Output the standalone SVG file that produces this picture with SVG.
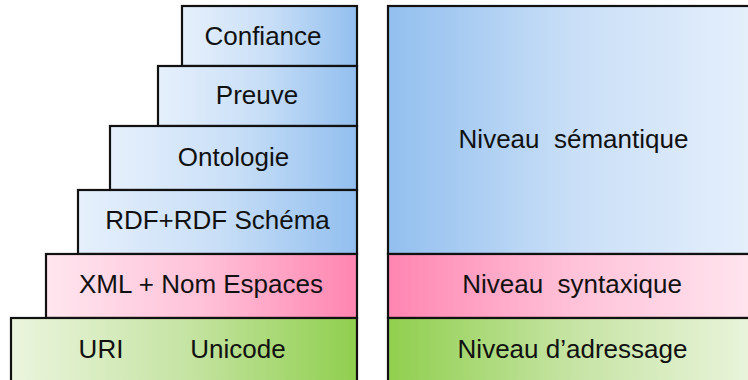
<svg xmlns="http://www.w3.org/2000/svg" width="748" height="380" viewBox="0 0 748 380">
<defs>
<linearGradient id="blueR" x1="0" y1="0" x2="1" y2="0"><stop offset="0" stop-color="#e6f0fc"/><stop offset="0.5" stop-color="#c9dff7"/><stop offset="1" stop-color="#92bfef"/></linearGradient>
<linearGradient id="blueL" x1="0" y1="0" x2="1" y2="0"><stop offset="0" stop-color="#92bfef"/><stop offset="0.5" stop-color="#c9dff7"/><stop offset="1" stop-color="#e6f0fc"/></linearGradient>
<linearGradient id="pinkR" x1="0" y1="0" x2="1" y2="0"><stop offset="0" stop-color="#ffe6ef"/><stop offset="0.5" stop-color="#ffc2d8"/><stop offset="1" stop-color="#ff85b1"/></linearGradient>
<linearGradient id="pinkL" x1="0" y1="0" x2="1" y2="0"><stop offset="0" stop-color="#ff85b1"/><stop offset="0.5" stop-color="#ffc2d8"/><stop offset="1" stop-color="#ffe6ef"/></linearGradient>
<linearGradient id="greenR" x1="0" y1="0" x2="1" y2="0"><stop offset="0" stop-color="#ebf5de"/><stop offset="0.5" stop-color="#c6e4a4"/><stop offset="1" stop-color="#90cf4e"/></linearGradient>
<linearGradient id="greenL" x1="0" y1="0" x2="1" y2="0"><stop offset="0" stop-color="#90cf4e"/><stop offset="0.5" stop-color="#c6e4a4"/><stop offset="1" stop-color="#ebf5de"/></linearGradient>
</defs>
<style>
rect{stroke:#111;stroke-width:2.2}
text{font-family:"Liberation Sans",Arial,sans-serif;font-size:26px;fill:#111;text-anchor:middle}
</style>
<g id="confiance"><rect x="182" y="6" width="175" height="60" fill="url(#blueR)"/><text x="263" y="45">Confiance</text></g>
<g id="preuve"><rect x="158" y="66" width="199" height="60" fill="url(#blueR)"/><text x="257" y="104">Preuve</text></g>
<g id="ontologie"><rect x="110" y="126" width="247" height="64" fill="url(#blueR)"/><text x="233.5" y="166">Ontologie</text></g>
<g id="rdf"><rect x="78" y="190" width="279" height="64" fill="url(#blueR)"/><text x="217.5" y="229">RDF+RDF Schéma</text></g>
<g id="xml"><rect x="46" y="254" width="311" height="64" fill="url(#pinkR)"/><text x="201" y="293">XML + Nom Espaces</text></g>
<g id="uri"><rect x="11" y="318" width="346" height="70" fill="url(#greenR)"/><text x="101" y="358">URI</text><text x="238" y="358">Unicode</text></g>
<g id="semantique"><rect x="388" y="6" width="372" height="248" fill="url(#blueL)"/><text x="573.5" y="148" xml:space="preserve">Niveau  sémantique</text></g>
<g id="syntaxique"><rect x="388" y="254" width="372" height="64" fill="url(#pinkL)"/><text x="572" y="293" xml:space="preserve">Niveau  syntaxique</text></g>
<g id="adressage"><rect x="388" y="318" width="372" height="70" fill="url(#greenL)"/><text x="572.5" y="358">Niveau d’adressage</text></g>
<g id="connectors"/>
</svg>
